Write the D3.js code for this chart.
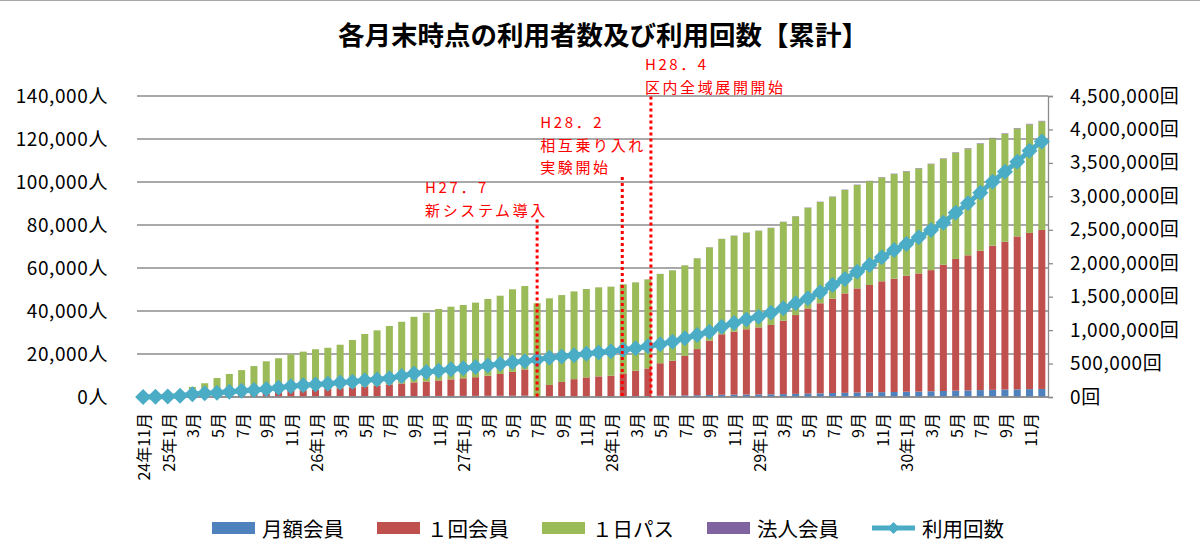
<!DOCTYPE html>
<html>
<head>
<meta charset="utf-8">
<script src="https://cdn.jsdelivr.net/npm/d3@7"></script>
<style>
    body { margin: 0; background: #fff; }
    text { font-family: "Noto Sans CJK JP", "Noto Sans", sans-serif; }
</style>
</head>
<body>
<div id="chart"></div>
<script>
// Category labels (one per month, H24.11 - H30.12)
const months = [
    "24年11月", "12月",
    "25年1月", "2月", "3月", "4月", "5月", "6月", "7月", "8月", "9月", "10月", "11月", "12月",
    "26年1月", "2月", "3月", "4月", "5月", "6月", "7月", "8月", "9月", "10月", "11月", "12月",
    "27年1月", "2月", "3月", "4月", "5月", "6月", "7月", "8月", "9月", "10月", "11月", "12月",
    "28年1月", "2月", "3月", "4月", "5月", "6月", "7月", "8月", "9月", "10月", "11月", "12月",
    "29年1月", "2月", "3月", "4月", "5月", "6月", "7月", "8月", "9月", "10月", "11月", "12月",
    "30年1月", "2月", "3月", "4月", "5月", "6月", "7月", "8月", "9月", "10月", "11月", "12月"
];

// 月額会員
const monthlyMembers = [0, 0, 10, 30, 60, 80, 110, 130, 150, 170, 200, 230, 240, 260, 290, 300, 330, 350, 360, 390,
    410, 420, 450, 460, 490, 500, 510, 530, 540, 560, 580, 610,
    40, 80, 110, 130, 170, 200, 240, 310, 370, 450, 560, 640, 760, 840, 950, 1040, 1100, 1160, 1190, 1260,
    1340, 1460, 1560, 1690, 1860, 1940, 2060, 2140, 2260, 2340, 2460, 2540, 2660, 2790, 2960, 3040, 3210, 3340,
    3460, 3540, 3660, 3740];

// 1回会員
const singleMembers = [0, 50, 140, 270, 450, 620, 850, 1080, 1350, 1620, 1900, 2180, 2560, 2840, 3120, 3400, 3780,
    4160, 4540, 4920, 5400, 5880, 6360, 6740, 7220, 7700, 8190, 8680, 9360, 10140, 11120, 12200,
    350, 5520, 6900, 8170, 8940, 9400, 9650, 10700, 11820, 12850, 15150, 16250, 18350, 21450, 25250, 28150,
    29300, 30350, 31200, 32250, 34150, 36650, 39650, 41900, 43850, 46250, 48450, 49950, 51550, 52650, 53950,
    54950, 56350, 58700, 61250, 62850, 64800, 67050, 68750, 71150, 72650, 73950];

// 1日パス
const dayPass = [0, 150, 650, 2200, 4200, 5700, 7850, 9500, 11000, 12600, 14500, 15600, 17000, 18000, 18800, 19200,
    20200, 22000, 24400, 25700, 27200, 28700, 30500, 32000, 33200, 33800, 34100, 34700, 35700, 36400, 38400, 38800,
    43200, 40300, 40400, 40800, 41100, 41400, 41400, 41400, 41100, 41400, 41500, 42000, 42100, 42200, 43400, 44300,
    44600, 44900, 44900, 45100, 45900, 45900, 46800, 47100, 47400, 48100, 48100, 48300, 48300, 48700, 48500, 48800,
    49300, 49300, 49400, 49600, 49800, 49900, 50200, 50200, 50500, 50500];

// 法人会員
const corporateMembers = [0, 0, 0, 0, 0, 0, 0, 0, 0, 0, 0, 0, 0, 0, 0, 0, 0, 0, 0, 0, 0, 0, 0, 0, 0, 0, 0, 0, 0, 0, 0, 0,
    0, 0, 10, 10, 20, 20, 30, 30, 40, 40, 50, 60, 60, 70, 80, 80, 90, 100, 100, 110, 120, 120, 130, 140, 140, 150,
    160, 160, 170, 180, 180, 190, 200, 200, 210, 220, 220, 230, 240, 240, 250, 260];

// 利用回数 (right axis)
const usageCount = [0, 2000, 8000, 20000, 40000, 55000, 65000, 80000, 92000, 105000, 120000, 140000, 162000, 175000,
    187000, 198000, 215000, 228000, 250000, 262000, 282000, 315000, 350000, 372000, 393000, 415000, 430000, 447000,
    470000, 495000, 518000, 535000, 562000, 585000, 605000, 625000, 645000, 665000, 685000, 705000, 728000, 760000,
    787000, 827000, 877000, 927000, 976000, 1050000, 1105000, 1160000, 1200000, 1260000, 1325000, 1400000, 1475000,
    1565000, 1674000, 1764000, 1873000, 1973000, 2088000, 2197000, 2287000, 2387000, 2496000, 2606000, 2755000,
    2895000, 3054000, 3218000, 3368000, 3517000, 3681000, 3821000];

const leftTicks = [0, 20000, 40000, 60000, 80000, 100000, 120000, 140000];
const rightTicks = [0, 500000, 1000000, 1500000, 2000000, 2500000, 3000000, 3500000, 4000000, 4500000];

const seriesNames = ["月額会員", "１回会員", "１日パス", "法人会員"];
const seriesColors = ["#4F81BD", "#C0504D", "#9BBB59", "#8064A2"];
const lineName = "利用回数";
const lineColor = "#4BACC6";

// Event annotations: month index and text lines
const eventIndex = [32, 39, 41];
const eventLabels = [
    ["H27．7", "新システム導入"],
    ["H28．2", "相互乗り入れ", "実験開始"],
    ["H28．4", "区内全域展開開始"]
];

const titleText = "各月末時点の利用者数及び利用回数【累計】";

// Set margin, width, height
let margin = {top: 96, right: 152, bottom: 152, left: 137};
let width = 1200 - margin.left - margin.right;
let height = 549 - margin.top - margin.bottom;

let root = d3.select("#chart").append("svg")
    .attr("width", 1200)
    .attr("height", 549);

// thin frame line at the top of the picture
root.append("line")
    .attr("x1", 0).attr("x2", 1200)
    .attr("y1", 0.5).attr("y2", 0.5)
    .attr("stroke", "#a6a6a6");

// Title
root.append("text")
    .attr("x", 603)
    .attr("y", 45)
    .attr("text-anchor", "middle")
    .style("font-size", "26.5px")
    .style("font-weight", "bold")
    .text(titleText);

let svg = root.append("g")
    .attr("transform", "translate(" + margin.left + "," + margin.top + ")");

// Scales
let x = d3.scaleBand()
    .domain(d3.range(months.length))
    .range([0, width])
    .paddingInner(0.43)
    .paddingOuter(0.215);
let yLeft = d3.scaleLinear().domain([0, 140000]).range([height, 0]);
let yRight = d3.scaleLinear().domain([0, 4500000]).range([height, 0]);

// Gridlines
svg.append("g")
    .selectAll("line")
    .data(leftTicks)
    .enter()
    .append("line")
    .attr("x1", 0)
    .attr("x2", width)
    .attr("y1", d => yLeft(d))
    .attr("y2", d => yLeft(d))
    .attr("stroke", "#8c8c8c")
    .attr("stroke-width", 1.3);

// Left axis
let leftAxis = svg.append("g")
    .call(d3.axisLeft(yLeft).tickValues(leftTicks).tickSize(0).tickPadding(29)
        .tickFormat(d => d3.format(",")(d) + "人"));
leftAxis.select(".domain").remove();
leftAxis.selectAll("text").style("font-size", "19px").style("letter-spacing", "0.6px").attr("fill", "#000");

// Right axis
let rightAxis = svg.append("g")
    .attr("transform", `translate(${width},0)`)
    .call(d3.axisRight(yRight).tickValues(rightTicks).tickSize(5).tickPadding(17)
        .tickFormat(d => d3.format(",")(d) + "回"));
rightAxis.select(".domain").attr("stroke", "#8c8c8c").attr("stroke-width", 1.3);
rightAxis.selectAll(".tick line").attr("stroke", "#8c8c8c").attr("stroke-width", 1.3);
rightAxis.selectAll("text").style("font-size", "19px").style("letter-spacing", "0.6px").attr("fill", "#000");

// Stacked bars
let rows = months.map((m, i) => ({
    i: i,
    0: monthlyMembers[i],
    1: singleMembers[i],
    2: dayPass[i],
    3: corporateMembers[i]
}));
let stacked = d3.stack().keys([0, 1, 2, 3])(rows);

svg.append("g")
    .selectAll("g")
    .data(stacked)
    .enter()
    .append("g")
    .attr("fill", (d, k) => seriesColors[k])
    .selectAll("rect")
    .data(d => d)
    .enter()
    .append("rect")
    .attr("x", d => x(d.data.i))
    .attr("y", d => yLeft(d[1]))
    .attr("width", x.bandwidth())
    .attr("height", d => yLeft(d[0]) - yLeft(d[1]));

// Bottom axis line
svg.append("line")
    .attr("x1", 0).attr("x2", width)
    .attr("y1", height).attr("y2", height)
    .attr("stroke", "#8c8c8c")
    .attr("stroke-width", 1.3);

// X labels (every other month), rotated
let xAxis = svg.append("g")
    .attr("transform", `translate(0,${height})`)
    .call(d3.axisBottom(x)
        .tickValues(d3.range(months.length).filter(i => i % 2 === 0))
        .tickSize(0)
        .tickFormat(i => months[i]));
xAxis.select(".domain").remove();
xAxis.selectAll("text")
    .style("font-size", "16px")
    .attr("fill", "#000")
    .attr("text-anchor", "end")
    .attr("dominant-baseline", "central")
    .attr("dy", null)
    .attr("y", 0)
    .attr("transform", "translate(0,16) rotate(-90)");

// Usage line
let cx = i => x(i) + x.bandwidth() / 2;
svg.append("path")
    .datum(usageCount)
    .attr("fill", "none")
    .attr("stroke", lineColor)
    .attr("stroke-width", 5)
    .attr("d", d3.line().x((d, i) => cx(i)).y(d => yRight(d)));

let diamond = "M0,-8L8,0L0,8L-8,0Z";
svg.append("g")
    .selectAll("path")
    .data(usageCount)
    .enter()
    .append("path")
    .attr("d", diamond)
    .attr("fill", lineColor)
    .attr("transform", (d, i) => `translate(${cx(i)},${yRight(d)})`);

// Event annotations
let lineGap = 22.5;
let lineShift = [0, -1, 3];
let textShift = [-112, -82, -6];
let firstBaseline = [193, 128, 70];
eventIndex.forEach((idx, k) => {
    let lx = cx(idx) + lineShift[k];
    let labels = eventLabels[k];
    let lastBase = firstBaseline[k] + lineGap * (labels.length - 1);
    root.append("line")
        .attr("x1", margin.left + lx).attr("x2", margin.left + lx)
        .attr("y1", lastBase + 4)
        .attr("y2", margin.top + height)
        .attr("stroke", "#ff0000")
        .attr("stroke-width", 3)
        .attr("stroke-dasharray", "3,3");
    labels.forEach((t, j) => {
        root.append("text")
            .attr("x", margin.left + lx + textShift[k])
            .attr("y", firstBaseline[k] + j * lineGap)
            .attr("fill", "#ff0000")
            .style("font-size", "15px")
            .style("letter-spacing", "2.6px")
            .text(t);
    });
});

// Legend
let legendY = 528;
let legend = root.append("g");
let lx = 212;
seriesNames.concat([lineName]).forEach((name, k) => {
    if (k < 4) {
        legend.append("rect")
            .attr("x", lx)
            .attr("y", legendY - 6)
            .attr("width", 43)
            .attr("height", 12)
            .attr("fill", seriesColors[k]);
    } else {
        legend.append("line")
            .attr("x1", lx).attr("x2", lx + 43)
            .attr("y1", legendY).attr("y2", legendY)
            .attr("stroke", lineColor)
            .attr("stroke-width", 5);
        legend.append("path")
            .attr("d", "M0,-6L6,0L0,6L-6,0Z")
            .attr("fill", lineColor)
            .attr("transform", `translate(${lx + 21.5},${legendY})`);
    }
    let t = legend.append("text")
        .attr("x", lx + 50)
        .attr("y", legendY)
        .attr("dominant-baseline", "central")
        .style("font-size", "20.5px")
        .text(name);
    lx = lx + 50 + t.node().getComputedTextLength() + 33;
});
</script>
</body>
</html>
